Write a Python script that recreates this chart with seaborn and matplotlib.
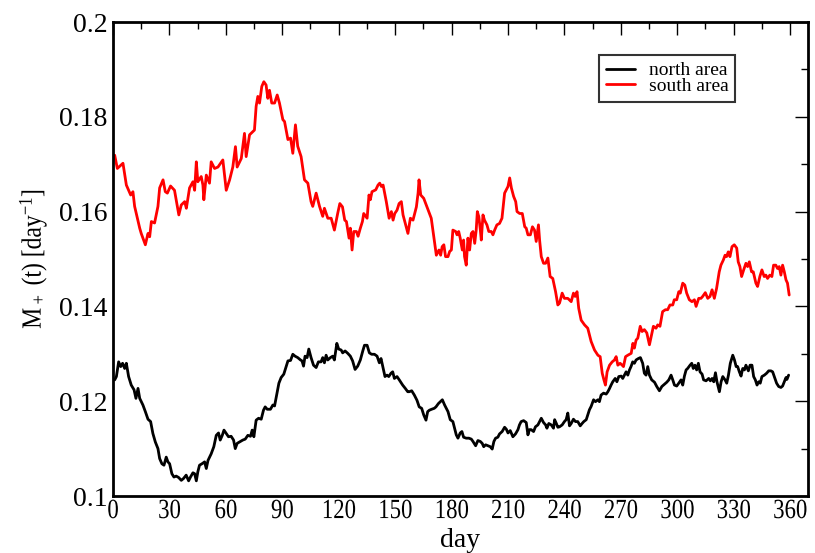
import matplotlib
matplotlib.use("Agg")
import matplotlib.pyplot as plt
from matplotlib.ticker import MultipleLocator, FuncFormatter
from matplotlib.patheffects import AbstractPathEffect
from matplotlib.transforms import Affine2D
import numpy as np
import pandas as pd
import seaborn as sns

# ---- series: north area ----
north_day = [
    0.9, 1.8, 3.0, 4.1, 5.1, 6.2, 7.1, 8.3, 9.7, 11.2,
    12.2, 13.3, 14.2, 15.9, 17.2, 18.6, 20.0, 21.2, 22.5, 23.9,
    24.8, 26.0, 27.1, 28.3, 29.2, 30.1, 31.3, 32.4, 33.6, 34.9,
    36.3, 37.5, 38.9, 40.2, 41.2, 42.5, 43.4, 44.3, 45.1, 46.0,
    47.3, 48.7, 49.6, 50.5, 52.2, 53.6, 54.9, 56.1, 57.0, 58.1,
    59.0, 60.2, 61.4, 62.8, 64.1, 65.0, 66.0, 67.3, 69.0, 70.3,
    71.7, 73.1, 74.0, 74.9, 76.1, 77.4, 78.8, 80.0, 80.9, 82.0,
    83.7, 85.0, 85.9, 87.3, 88.2, 89.4, 90.8, 92.1, 93.0, 94.4,
    95.6, 96.8, 98.2, 99.7, 100.5, 101.3, 102.1, 103.2, 104.1, 105.3,
    106.6, 108.0, 109.2, 110.6, 111.5, 112.4, 113.3, 114.2, 115.6, 116.8,
    117.7, 119.0, 120.0, 121.3, 122.1, 123.4, 124.8, 126.2, 127.4, 128.7,
    130.1, 131.5, 132.8, 133.7, 135.1, 136.3, 137.5, 139.0, 140.4, 141.6,
    142.5, 143.4, 144.6, 145.7, 146.6, 147.8, 148.7, 149.6, 151.0, 152.2,
    154.0, 155.4, 156.7, 157.5, 158.8, 160.2, 161.6, 162.8, 164.1, 165.2,
    166.4, 167.3, 168.2, 169.4, 170.8, 171.7, 173.0,
    175.1, 176.3, 178.1, 179.3, 180.7, 181.6, 182.5, 183.4, 184.6, 185.5,
    186.4, 187.8, 189.2, 190.5, 191.4, 192.8, 194.0, 195.3, 196.3, 197.1,
    198.1, 199.4, 200.6, 201.6, 202.5, 203.4, 204.6, 205.5, 206.9, 208.2,
    209.1, 210.0, 211.2, 212.6, 214.0, 215.3, 216.1, 217.0, 218.3, 219.7,
    220.6, 221.4, 222.3, 223.6, 224.6, 225.9, 226.8, 227.7, 228.9, 230.0,
    230.7, 231.7, 233.0, 234.2, 234.8, 235.7, 236.5, 237.4, 238.8, 240.0,
    240.9, 241.8, 242.7, 243.6, 244.8, 245.9, 247.1, 248.4, 249.4, 250.3,
    251.6, 252.4, 253.3, 254.2, 255.5, 256.5, 257.8, 258.6, 259.5, 260.8,
    262.2, 263.1, 264.0, 264.8, 265.7, 267.0, 267.9, 268.9, 270.2, 271.0,
    271.9, 272.8, 273.7, 274.6, 275.4, 276.3, 277.2, 278.1, 279.3, 280.4,
    281.6, 282.5, 283.4, 284.3, 285.2, 286.4, 287.9, 289.1, 290.5, 291.8,
    293.2, 294.4, 295.5, 296.7, 297.6, 298.5, 299.7, 300.8, 302.0, 302.9,
    303.8, 304.7, 305.5, 306.8, 307.7, 308.5, 309.4, 310.3, 311.2, 312.1,
    313.2, 314.0, 315.3, 316.7, 317.6, 318.5, 319.4, 320.3, 321.1, 322.4,
    323.3, 324.2, 325.4, 326.3, 327.2, 328.2, 329.5, 330.4, 331.3, 332.1,
    333.0, 333.9, 334.8, 335.7, 336.5, 337.8, 338.7, 339.7, 340.6, 341.5,
    342.4, 343.3, 344.1, 345.0, 346.3, 347.5, 348.6, 349.8, 350.7, 351.6,
    352.8, 353.9, 355.1, 356.0, 356.9, 357.8, 358.3, 359.2,
]
north_val = [
    0.1245, 0.1252, 0.1283, 0.1273, 0.1280, 0.1269, 0.1280, 0.1252, 0.1234, 0.1224,
    0.1206, 0.1227, 0.1206, 0.1192, 0.1178, 0.1162, 0.1157, 0.1132, 0.1114, 0.1100,
    0.1079, 0.1068, 0.1065, 0.1082, 0.1072, 0.1068, 0.1047, 0.1040, 0.1042, 0.1039,
    0.1033, 0.1037, 0.1044, 0.1032, 0.1040, 0.1049, 0.1047, 0.1032, 0.1051, 0.1065,
    0.1068, 0.1072, 0.1058, 0.1075, 0.1089, 0.1104, 0.1128, 0.1133, 0.1118, 0.1128,
    0.1139, 0.1132, 0.1125, 0.1126, 0.1118, 0.1100, 0.1111, 0.1114, 0.1118, 0.1120,
    0.1128, 0.1126, 0.1139, 0.1125, 0.1160, 0.1164, 0.1162, 0.1181, 0.1188, 0.1183,
    0.1183, 0.1192, 0.1190, 0.1220, 0.1238, 0.1250, 0.1257, 0.1274, 0.1285, 0.1286,
    0.1299, 0.1295, 0.1292, 0.1287, 0.1285, 0.1274, 0.1295, 0.1292, 0.1310, 0.1292,
    0.1276, 0.1271, 0.1283, 0.1283, 0.1292, 0.1281, 0.1297, 0.1287, 0.1292, 0.1295,
    0.1287, 0.1322, 0.1310, 0.1308, 0.1302, 0.1306, 0.1301, 0.1295, 0.1285, 0.1267,
    0.1274, 0.1287, 0.1306, 0.1318, 0.1318, 0.1302, 0.1299, 0.1299, 0.1295, 0.1281,
    0.1290, 0.1274, 0.1252, 0.1255, 0.1252, 0.1259, 0.1262, 0.1248, 0.1252, 0.1245,
    0.1234, 0.1227, 0.1220, 0.1220, 0.1222, 0.1213, 0.1202, 0.1188, 0.1185, 0.1171,
    0.1160, 0.1178, 0.1181, 0.1183, 0.1185, 0.1188, 0.1195,
    0.1203, 0.1192, 0.1178, 0.1161, 0.1157, 0.1143, 0.1129, 0.1122, 0.1133, 0.1136,
    0.1124, 0.1122, 0.1122, 0.1120, 0.1115, 0.1106, 0.1117, 0.1115, 0.1111, 0.1104,
    0.1108, 0.1106, 0.1104, 0.1099, 0.1115, 0.1122, 0.1124, 0.1131, 0.1136, 0.1145,
    0.1141, 0.1133, 0.1138, 0.1125, 0.1131, 0.1140, 0.1150, 0.1157, 0.1159, 0.1155,
    0.1129, 0.1140, 0.1140, 0.1136, 0.1146, 0.1150, 0.1157, 0.1164, 0.1155, 0.1150,
    0.1143, 0.1153, 0.1150, 0.1143, 0.1161, 0.1153, 0.1145, 0.1146, 0.1150, 0.1157,
    0.1161, 0.1175, 0.1148, 0.1153, 0.1162, 0.1157, 0.1157, 0.1148, 0.1153, 0.1157,
    0.1161, 0.1171, 0.1182, 0.1189, 0.1203, 0.1199, 0.1203, 0.1199, 0.1213, 0.1217,
    0.1215, 0.1220, 0.1227, 0.1234, 0.1241, 0.1248, 0.1241, 0.1252, 0.1253, 0.1248,
    0.1255, 0.1262, 0.1255, 0.1266, 0.1273, 0.1283, 0.1280, 0.1287, 0.1290, 0.1292,
    0.1280, 0.1259, 0.1255, 0.1273, 0.1255, 0.1245, 0.1240, 0.1231, 0.1222, 0.1231,
    0.1236, 0.1240, 0.1245, 0.1255, 0.1245, 0.1234, 0.1232, 0.1238, 0.1245, 0.1234,
    0.1253, 0.1266, 0.1269, 0.1276, 0.1280, 0.1269, 0.1276, 0.1266, 0.1280, 0.1262,
    0.1257, 0.1245, 0.1243, 0.1248, 0.1243, 0.1248, 0.1241, 0.1260, 0.1241, 0.1220,
    0.1241, 0.1252, 0.1245, 0.1238, 0.1255, 0.1280, 0.1297, 0.1287, 0.1273, 0.1273,
    0.1262, 0.1253, 0.1269, 0.1266, 0.1276, 0.1264, 0.1276, 0.1276, 0.1252, 0.1245,
    0.1234, 0.1241, 0.1238, 0.1252, 0.1255, 0.1259, 0.1264, 0.1264, 0.1262, 0.1252,
    0.1238, 0.1231, 0.1229, 0.1232, 0.1241, 0.1250, 0.1246, 0.1255,
]

# ---- series: south area ----
south_day = [
    0.9, 2.3, 5.3, 7.1, 9.4, 10.6, 11.5, 14.2, 15.0, 17.2,
    18.6, 19.5, 20.4, 22.1, 23.9, 24.8, 26.6, 27.8, 28.9, 30.6,
    32.7, 35.0, 36.3, 38.1, 39.0, 40.7, 42.5, 43.4, 44.3, 45.1,
    46.9, 47.8, 48.3, 49.6, 51.3, 52.2, 54.0, 55.8, 58.4, 60.2,
    62.0, 63.7, 65.1, 66.0, 68.2, 69.9, 70.8, 72.6, 75.2, 76.1,
    77.0, 77.9, 79.1, 80.2, 81.4, 82.3, 83.2, 84.4, 85.9, 87.3,
    88.5, 90.3, 91.2, 93.0, 94.4, 95.6, 97.0, 98.2, 100.0, 101.8,
    103.6, 105.3, 106.2, 108.0, 109.8, 111.5, 112.4, 114.2, 116.0, 117.7,
    119.5,
    120.6, 122.0, 123.2, 124.1, 125.5, 126.2, 127.1, 128.0, 129.4, 130.3,
    131.5, 132.6, 133.3, 135.1, 136.1, 136.8, 137.7, 139.7, 140.9, 141.8,
    142.7, 143.6, 145.3, 146.8, 148.0, 148.9, 149.8, 151.0, 152.1, 153.3,
    154.2, 155.6, 156.8, 158.1, 159.5, 161.3, 162.2, 162.7, 163.6, 165.2,
    166.9, 169.2, 170.4, 171.9, 173.3, 174.2, 175.0, 175.9, 176.8, 178.1,
    179.0, 179.9, 180.7, 182.2, 182.9, 183.8, 184.6, 185.7, 186.4, 186.9,
    187.8, 188.7, 189.6, 190.5, 191.4, 192.3, 193.1, 193.7, 194.5, 195.3,
    195.8, 196.7, 197.5, 198.8, 199.8, 201.1, 202.0, 202.9, 204.1, 205.5,
    206.8, 208.2, 209.1, 210.0, 210.9, 211.8, 213.0, 214.1, 214.8, 216.2,
    217.6, 218.9, 219.7, 220.6, 221.9, 223.0, 224.1, 225.0, 226.2, 226.8,
    227.7, 228.9, 230.0, 231.2, 232.4, 233.8, 235.3, 236.5, 237.4,
    238.8, 240.0, 241.8, 243.6, 244.8, 245.7, 246.7, 247.6, 248.9, 250.7,
    252.4, 254.2, 256.0, 257.8, 259.0, 260.1, 261.0, 261.8, 262.7, 264.0,
    265.4, 266.6, 267.5, 268.4, 269.6, 270.7, 271.4, 272.5, 273.7, 275.5,
    276.4, 277.2, 278.1, 279.0, 280.3, 281.3, 282.5, 283.8, 285.2, 286.1,
    287.3, 288.7, 289.6, 290.8, 292.2, 293.7, 294.9, 296.1, 297.6, 298.4,
    299.7, 300.8, 301.6, 302.9, 304.0, 305.0, 306.4, 307.8, 309.1, 310.0,
    311.4, 312.6, 313.5, 314.9, 316.2, 317.4, 318.5, 319.7, 320.9, 322.3,
    323.2, 324.5, 325.4, 326.2, 327.1, 328.0, 329.1, 330.3, 331.6, 332.4,
    333.3, 334.2, 335.3, 336.5, 337.4, 338.3, 339.5, 340.4, 341.8, 342.7,
    343.9, 345.0, 346.2, 347.1, 348.0, 349.2, 350.3, 351.2, 352.4, 353.3,
    354.2, 355.1, 356.0, 356.9, 357.8, 358.6, 359.5,
]
south_val = [
    0.1719, 0.1691, 0.1702, 0.1656, 0.1635, 0.1642, 0.1611, 0.1565, 0.1554, 0.1530,
    0.1554, 0.1547, 0.1579, 0.1576, 0.1611, 0.1650, 0.1667, 0.1642, 0.1639, 0.1654,
    0.1645, 0.1593, 0.1614, 0.1621, 0.1607, 0.1650, 0.1663, 0.1645, 0.1705, 0.1663,
    0.1674, 0.1656, 0.1625, 0.1677, 0.1660, 0.1705, 0.1691, 0.1694, 0.1709, 0.1645,
    0.1667, 0.1694, 0.1737, 0.1694, 0.1712, 0.1765, 0.1716, 0.1762, 0.1772, 0.1822,
    0.1843, 0.1829, 0.1864, 0.1874, 0.1867, 0.1839, 0.1856, 0.1829, 0.1829, 0.1846,
    0.1829, 0.1794, 0.1790, 0.1752, 0.1755, 0.1723, 0.1783, 0.1738, 0.1716, 0.1667,
    0.1660, 0.1621, 0.1611, 0.1639, 0.1611, 0.1590, 0.1607, 0.1586, 0.1586, 0.1561,
    0.1597,
    0.1617, 0.1610, 0.1582, 0.1579, 0.1544, 0.1565, 0.1519, 0.1558, 0.1558, 0.1548,
    0.1565, 0.1579, 0.1596, 0.1586, 0.1635, 0.1625, 0.1642, 0.1646, 0.1656, 0.1660,
    0.1653, 0.1656, 0.1621, 0.1586, 0.1600, 0.1582, 0.1596, 0.1603, 0.1617, 0.1621,
    0.1593, 0.1572, 0.1554, 0.1586, 0.1582, 0.1610, 0.1639, 0.1667, 0.1635, 0.1628,
    0.1610, 0.1586, 0.1551, 0.1508, 0.1519, 0.1508, 0.1526, 0.1530, 0.1505, 0.1505,
    0.1516, 0.1519, 0.1561, 0.1558, 0.1551, 0.1558, 0.1544, 0.1519, 0.1540, 0.1505,
    0.1487, 0.1544, 0.1519, 0.1554, 0.1558, 0.1533, 0.1561, 0.1600, 0.1589, 0.1561,
    0.1540, 0.1593, 0.1582, 0.1572, 0.1558, 0.1558, 0.1551, 0.1561, 0.1572, 0.1575,
    0.1586, 0.1639, 0.1646, 0.1653, 0.1671, 0.1650, 0.1632, 0.1621, 0.1600, 0.1596,
    0.1596, 0.1568, 0.1565, 0.1551, 0.1551, 0.1568, 0.1561, 0.1537, 0.1572, 0.1540,
    0.1505, 0.1491, 0.1491, 0.1502, 0.1463, 0.1459, 0.1431, 0.1403, 0.1407,
    0.1428, 0.1417, 0.1417, 0.1410, 0.1428, 0.1421, 0.1431, 0.1396, 0.1371, 0.1361,
    0.1354, 0.1326, 0.1308, 0.1297, 0.1294, 0.1259, 0.1245, 0.1234, 0.1262, 0.1276,
    0.1283, 0.1287, 0.1294, 0.1276, 0.1280, 0.1276, 0.1273, 0.1294, 0.1297, 0.1301,
    0.1322, 0.1312, 0.1329, 0.1333, 0.1358, 0.1347, 0.1351, 0.1344, 0.1319, 0.1336,
    0.1358, 0.1354, 0.1361, 0.1358, 0.1389, 0.1393, 0.1393, 0.1403, 0.1403, 0.1414,
    0.1414, 0.1431, 0.1428, 0.1449, 0.1445, 0.1428, 0.1414, 0.1410, 0.1414, 0.1400,
    0.1417, 0.1417, 0.1421, 0.1429, 0.1417, 0.1421, 0.1435, 0.1417, 0.1438, 0.1473,
    0.1487, 0.1498, 0.1508, 0.1505, 0.1515, 0.1505, 0.1526, 0.1530, 0.1523, 0.1494,
    0.1484, 0.1463, 0.1477, 0.1491, 0.1484, 0.1494, 0.1473, 0.1473, 0.1449, 0.1442,
    0.1463, 0.1477, 0.1463, 0.1466, 0.1459, 0.1466, 0.1463, 0.1487, 0.1487, 0.1480,
    0.1484, 0.1466, 0.1487, 0.1473, 0.1456, 0.1449, 0.1424,
]

area_names = ["north area", "south area"]
area_colors = ["black", "red"]

x_ticks = list(range(0, 361, 30))
y_ticks = [0.1, 0.12, 0.14, 0.16, 0.18, 0.2]


class Squeeze(AbstractPathEffect):
    """Narrow a text path along its writing direction, keeping its centre."""

    def __init__(self, sx):
        super().__init__()
        self._sx = sx

    def draw_path(self, renderer, gc, tpath, affine, rgbFace=None):
        ext = tpath.get_extents()
        cx = 0.5 * (ext.x0 + ext.x1)
        squeeze = Affine2D().translate(-cx, 0).scale(self._sx, 1).translate(cx, 0)
        renderer.draw_path(gc, tpath, squeeze + affine, rgbFace)


sns.set_theme(style="white", rc={
    "axes.edgecolor": "black",
    "axes.labelcolor": "black",
    "text.color": "black",
    "xtick.color": "black",
    "ytick.color": "black",
})
plt.rcParams["font.family"] = ["Liberation Serif", "DejaVu Serif"]
plt.rcParams["mathtext.fontset"] = "custom"
plt.rcParams["mathtext.rm"] = "Liberation Serif"
plt.rcParams["mathtext.default"] = "regular"

df = pd.concat([
    pd.DataFrame({"day": north_day, "rate": north_val, "area": area_names[0]}),
    pd.DataFrame({"day": south_day, "rate": south_val, "area": area_names[1]}),
], ignore_index=True)

fig = plt.figure(figsize=(8.15, 5.53), dpi=100)
ax = fig.add_axes([113 / 815, 1 - 496 / 553, (808 - 113) / 815, (496 - 22) / 553])

sns.lineplot(data=df, x="day", y="rate", hue="area", hue_order=area_names,
             palette=dict(zip(area_names, area_colors)), estimator=None,
             sort=False, linewidth=2.0, ax=ax)

ax.set_xlim(0, 369.5)
ax.set_ylim(0.1, 0.2)
ax.set_xticks(x_ticks)
ax.set_yticks(y_ticks)
ax.xaxis.set_minor_locator(MultipleLocator(15))
ax.yaxis.set_minor_locator(MultipleLocator(0.01))
ax.yaxis.set_major_formatter(FuncFormatter(lambda v, _: f"{v:g}"))

ax.tick_params(which="both", direction="in", top=True, right=True,
               width=1.0, labelsize=20)
ax.tick_params(which="major", length=9.5)
ax.tick_params(which="minor", length=5)
ax.tick_params(axis="x", which="both", pad=2.2)
ax.tick_params(axis="y", which="both", pad=4)
for spine in ax.spines.values():
    spine.set_linewidth(2.0)
    spine.set_color("black")

for lbl in ax.get_xticklabels():
    lbl.set_path_effects([Squeeze(0.82)])

ax.set_xlabel("day", fontsize=20, labelpad=3)
ylab = ax.set_ylabel("M$_+$ (t) [day$^{-1}$]", fontsize=20, labelpad=7)
ylab.set_path_effects([Squeeze(0.85)])

handles, labels = ax.get_legend_handles_labels()
leg = ax.legend(handles, labels, loc="upper left",
                bbox_to_anchor=(599 / 815, 1 - 55 / 553),
                bbox_transform=fig.transFigure, frameon=True, fancybox=False,
                edgecolor="black", fontsize=14, handlelength=1.5,
                handletextpad=0.7, borderpad=0.35, labelspacing=-0.1,
                borderaxespad=0)
leg.get_frame().set_linewidth(1.5)
for line in leg.get_lines():
    line.set_linewidth(2.0)

fig.savefig("out.png", dpi=100)
